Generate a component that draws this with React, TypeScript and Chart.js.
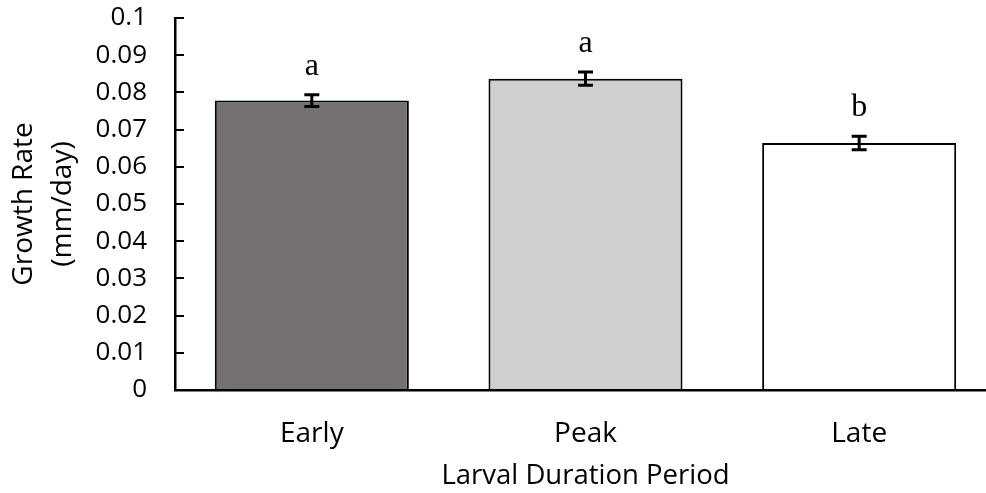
import React, { useEffect, useRef } from "react";
import { Chart, registerables } from "chart.js";

Chart.register(...registerables);

const categories = ["Early", "Peak", "Late"];
const growthRate = [0.0778, 0.0837, 0.0664];
const stdError = [0.0016, 0.0018, 0.0018];
const significance = ["a", "a", "b"];
const barColors = ["#767171", "#D0CECE", "#FFFFFF"];
const yTickLabels = ["0", "0.01", "0.02", "0.03", "0.04", "0.05", "0.06", "0.07", "0.08", "0.09", "0.1"];

const SANS = "'Open Sans', 'DejaVu Sans', sans-serif";

const errorBarPlugin = {
  id: "errorBars",
  afterDatasetsDraw(chart: any) {
    const ctx = chart.ctx;
    const meta = chart.getDatasetMeta(0);
    const y = chart.scales.y;
    ctx.save();
    ctx.strokeStyle = "#000";
    ctx.lineWidth = 3;
    meta.data.forEach((bar: any, i: number) => {
      const x = bar.x;
      const top = y.getPixelForValue(growthRate[i] + stdError[i]);
      const bot = y.getPixelForValue(growthRate[i] - stdError[i]);
      ctx.beginPath();
      ctx.moveTo(x, top);
      ctx.lineTo(x, bot);
      ctx.moveTo(x - 7.5, top);
      ctx.lineTo(x + 7.5, top);
      ctx.moveTo(x - 7.5, bot);
      ctx.lineTo(x + 7.5, bot);
      ctx.stroke();
      ctx.fillStyle = "#000";
      ctx.font = "32px 'Liberation Serif', 'Times New Roman', serif";
      ctx.textAlign = "center";
      ctx.textBaseline = "alphabetic";
      ctx.fillText(significance[i], x, top - 20);
    });
    ctx.restore();
  },
};

const innerTicksPlugin = {
  id: "innerTicks",
  afterDraw(chart: any) {
    const ctx = chart.ctx;
    const y = chart.scales.y;
    const left = chart.chartArea.left;
    ctx.save();
    ctx.strokeStyle = "#000";
    ctx.lineWidth = 2;
    y.ticks.forEach((t: any) => {
      const py = Math.round(y.getPixelForValue(t.value));
      ctx.beginPath();
      ctx.moveTo(left, py);
      ctx.lineTo(left + 9, py);
      ctx.stroke();
    });
    ctx.restore();
  },
};

export default function App() {
  const ref = useRef<HTMLCanvasElement | null>(null);

  useEffect(() => {
    document.documentElement.style.overflow = "hidden";
    document.body.style.overflow = "hidden";
    const chart = new Chart(ref.current as HTMLCanvasElement, {
      type: "bar",
      data: {
        labels: categories,
        datasets: [
          {
            data: growthRate,
            backgroundColor: barColors,
            borderColor: "#000",
            borderWidth: 2,
            barPercentage: 0.709,
            categoryPercentage: 1,
          },
        ],
      },
      plugins: [errorBarPlugin, innerTicksPlugin],
      options: {
        animation: false,
        responsive: true,
        maintainAspectRatio: false,
        layout: { padding: { top: 18, left: 0, right: 0, bottom: 0 } },
        plugins: {
          legend: { display: false },
          tooltip: { enabled: false },
        },
        scales: {
          x: {
            grid: { display: false, drawTicks: false },
            border: { display: true, color: "#000", width: 2.5, z: 1 },
            ticks: {
              color: "#000",
              padding: 27,
              font: { family: SANS, size: 28 },
            },
            title: {
              display: true,
              text: "Larval Duration Period",
              color: "#000",
              font: { family: SANS, size: 27.5 },
              padding: { top: 0, bottom: 0 },
            },
            afterFit: (s: any) => {
              s.height = 103;
              s.paddingLeft = 0;
              s.paddingRight = 0;
            },
          },
          y: {
            min: 0,
            max: 0.1,
            grid: { display: false, drawTicks: false },
            border: { display: true, color: "#000", width: 2.5, z: 1 },
            ticks: {
              stepSize: 0.01,
              color: "#000",
              padding: 28,
              font: { family: SANS, size: 26 },
              callback: (_v: any, i: number) => yTickLabels[i],
            },
            title: {
              display: true,
              text: ["Growth Rate", "(mm/day)"],
              color: "#000",
              font: { family: SANS, size: 28, lineHeight: 1.37 },
              padding: { top: 5, bottom: 0 },
            },
            afterFit: (s: any) => {
              s.width = 175;
              s.paddingTop = 0;
              s.paddingBottom = 0;
            },
          },
        },
      },
    });
    return () => chart.destroy();
  }, []);

  return (
    <div style={{ position: "fixed", left: 0, top: 0, width: 996, height: 493, background: "#fff" }}>
      <canvas ref={ref} />
    </div>
  );
}
